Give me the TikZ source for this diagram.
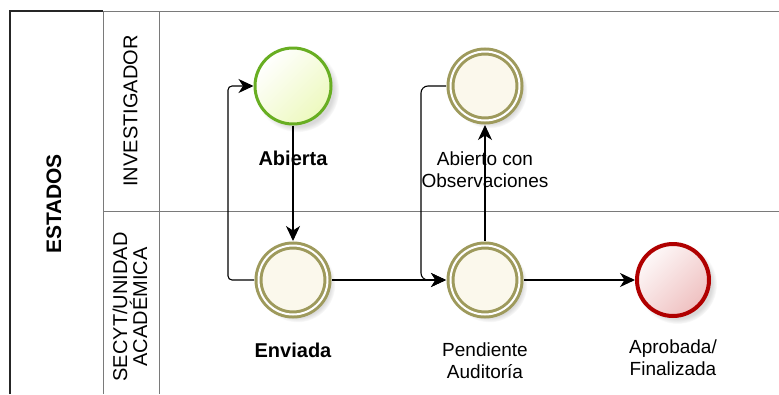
\documentclass[tikz,border=0pt]{standalone}
\usepackage{fontspec}
\setmainfont{Liberation Sans}
\usetikzlibrary{arrows.meta,shadows}

\definecolor{startline}{HTML}{68AE22}
\definecolor{startfill}{HTML}{EDF9BE}
\definecolor{midline}{HTML}{9E9A5C}
\definecolor{midfill}{HTML}{FBF8EC}
\definecolor{endline}{HTML}{B00000}
\definecolor{endfill}{HTML}{EFC0C0}
\definecolor{laneline}{HTML}{7A7A7A}

\begin{document}
\begin{tikzpicture}[x=1pt,y=-1pt,
    shadowed/.style={circular drop shadow={shadow xshift=4pt,shadow yshift=-4pt,opacity=.3}},
    startstate/.style={circle,draw=startline,line width=3pt,minimum size=76pt,inner sep=0pt,
      top color=white,bottom color=startfill,shading angle=45,shadowed},
    midstate/.style={circle,draw=midline,line width=3pt,double=white,double distance=2pt,
      minimum size=69pt,inner sep=0pt,outer sep=4.5pt,fill=midfill,shadowed},
    endstate/.style={circle,draw=endline,line width=4pt,minimum size=72pt,inner sep=0pt,
      top color=white!90!endfill,bottom color=endfill,shading angle=45,shadowed},
    statetxt/.style={inner sep=0pt,align=center,font=\fontsize{19}{22}\selectfont},
    boldtxt/.style={statetxt,font=\bfseries\fontsize{20}{23}\selectfont},
    lanetxt/.style={rotate=90,inner sep=0pt,align=center,font=\fontsize{20}{20}\selectfont},
    flow/.style={-{Stealth[length=15pt,width=14pt,inset=4.5pt]},line width=1.1pt}]
  \useasboundingbox (0,0) rectangle (779,394);
  % pool and lanes
  \draw[laneline,line width=1pt] (103,11) -- (779,11) (103,211) -- (779,211)
    (103,11) -- (103,394) (159,11) -- (159,394);
  \draw[black!85,line width=1.6pt] (10,394) |- (103,11);
  \node[rotate=90,inner sep=0pt,font=\bfseries\fontsize{21}{24}\selectfont] (pool) at (54,204) {ESTADOS};
  \node[lanetxt] (lane1) at (130.5,111) {INVESTIGADOR};
  \node[lanetxt] (lane2) at (130,307) {SECYT/UNIDAD\\ACAD\'EMICA};
  % states
  \node[startstate] (abierta)   at (293, 86) {};
  \node[midstate]   (obs)       at (485, 86) {};
  \node[midstate]   (enviada)   at (293,280) {};
  \node[midstate]   (pendiente) at (485,280) {};
  \node[endstate]   (aprobada)  at (673,280) {};
  \node[boldtxt,anchor=north]  (abiertaTxt)   at (293,151) {Abierta};
  \node[statetxt,anchor=north] (obsTxt)       at (485,152) {Abierto con\\Observaciones};
  \node[boldtxt,anchor=north]  (enviadaTxt)   at (293,343) {Enviada};
  \node[statetxt,anchor=north] (pendienteTxt) at (485,343) {Pendiente\\Auditor\'ia};
  \node[statetxt,anchor=north] (aprobadaTxt)  at (673,340) {Aprobada/\\Finalizada};
  % transitions
  \draw[flow] (abierta) -- (enviada);
  \draw[flow,rounded corners=4pt] (enviada.west) -- ++(-26,0) |- (abierta.west);
  \draw[flow] (enviada) -- (pendiente);
  \draw[flow] (pendiente) -- (obs);
  \draw[flow,rounded corners=7pt] (obs.west) -- ++(-25,0) |- (pendiente.west);
  \draw[flow] (pendiente) -- (aprobada);
\end{tikzpicture}
\end{document}
